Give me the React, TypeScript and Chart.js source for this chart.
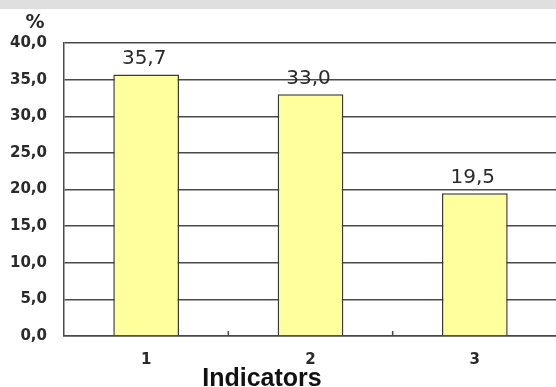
import React, { useEffect, useRef } from 'react';
import { Chart, registerables } from 'chart.js';

Chart.register(...registerables);

// Chart content
const categories = ['1', '2', '3'];
const shares = [35.7, 33.0, 19.5];
const yTicks = [0, 5, 10, 15, 20, 25, 30, 35, 40];
const axisTitle = 'Indicators';
const unitLabel = '%';

const fmt = (v: number) => v.toFixed(1).replace('.', ',');

const INK = '#2a2a2a';
const GRID = '#4a4a4a';

// Value labels above each bar
const barLabels = {
  id: 'barLabels',
  afterDatasetsDraw(chart: any) {
    const { ctx } = chart;
    const meta = chart.getDatasetMeta(0);
    ctx.save();
    ctx.font = '20px "DejaVu Sans"';
    ctx.fillStyle = INK;
    ctx.textAlign = 'center';
    ctx.textBaseline = 'alphabetic';
    meta.data.forEach((bar: any, i: number) => {
      ctx.fillText(fmt(shares[i]), bar.x - 2, bar.y - 10);
    });
    ctx.restore();
  },
};

// Short inward tick marks at category boundaries, plus the unit and axis titles
const decorations = {
  id: 'decorations',
  afterDraw(chart: any) {
    const { ctx } = chart;
    const xs = chart.scales.x;
    const step = xs.width / categories.length;
    ctx.save();
    ctx.strokeStyle = GRID;
    ctx.lineWidth = 1.5;
    ctx.beginPath();
    for (let i = 1; i <= categories.length; i++) {
      const x = xs.left + i * step;
      ctx.moveTo(x, xs.top);
      ctx.lineTo(x, xs.top - 5);
    }
    ctx.stroke();

    ctx.fillStyle = INK;
    ctx.textAlign = 'center';
    ctx.textBaseline = 'alphabetic';
    ctx.font = 'bold 19px "DejaVu Sans"';
    ctx.fillText(unitLabel, 35, 28);

    ctx.fillStyle = '#111';
    ctx.font = 'bold 25px "Liberation Sans"';
    ctx.fillText(axisTitle, 262, 386);
    ctx.restore();
  },
};

export default function App() {
  const canvasRef = useRef<HTMLCanvasElement | null>(null);

  useEffect(() => {
    if (!canvasRef.current) return;
    const chart = new Chart(canvasRef.current, {
      type: 'bar',
      data: {
        labels: categories,
        datasets: [
          {
            data: shares,
            backgroundColor: '#ffff9c',
            borderColor: '#3a3a3a',
            borderWidth: 1.5,
            barPercentage: 0.4,
            categoryPercentage: 1,
          },
        ],
      },
      options: {
        responsive: false,
        animation: false,
        devicePixelRatio: 1,
        layout: { padding: { top: 43, right: 1, left: 0, bottom: 0 } },
        plugins: {
          legend: { display: false },
          tooltip: { enabled: false },
        },
        scales: {
          x: {
            offset: true,
            grid: { display: false },
            border: { display: true, color: GRID, width: 1.5 },
            ticks: {
              color: INK,
              padding: 7,
              font: { family: 'DejaVu Sans', size: 15, weight: 'bold' },
            },
            afterFit(scale: any) {
              scale.height = 51;
            },
          },
          y: {
            min: 0,
            max: 40,
            afterBuildTicks(scale: any) {
              scale.ticks = yTicks.map((v) => ({ value: v }));
            },
            grid: { color: GRID, lineWidth: 1.5, drawTicks: false },
            border: { display: true, color: GRID, width: 1.5 },
            ticks: {
              color: INK,
              padding: 17,
              font: { family: 'DejaVu Sans', size: 15, weight: 'bold' },
              callback: (v: any) => fmt(Number(v)),
            },
            afterFit(scale: any) {
              scale.width = 64;
            },
          },
        },
      },
      plugins: [barLabels, decorations],
    });
    return () => chart.destroy();
  }, []);

  return (
    <div
      style={{
        position: 'fixed',
        left: 0,
        top: 0,
        width: 556,
        height: 387,
        overflow: 'hidden',
        background: '#ffffff',
      }}
    >
      <canvas
        ref={canvasRef}
        width={558}
        height={387}
        style={{ display: 'block', width: 558, height: 387 }}
      />
      <div
        style={{
          position: 'absolute',
          left: 0,
          top: 0,
          width: 556,
          height: 9,
          background: '#dfdfdf',
        }}
      />
    </div>
  );
}
